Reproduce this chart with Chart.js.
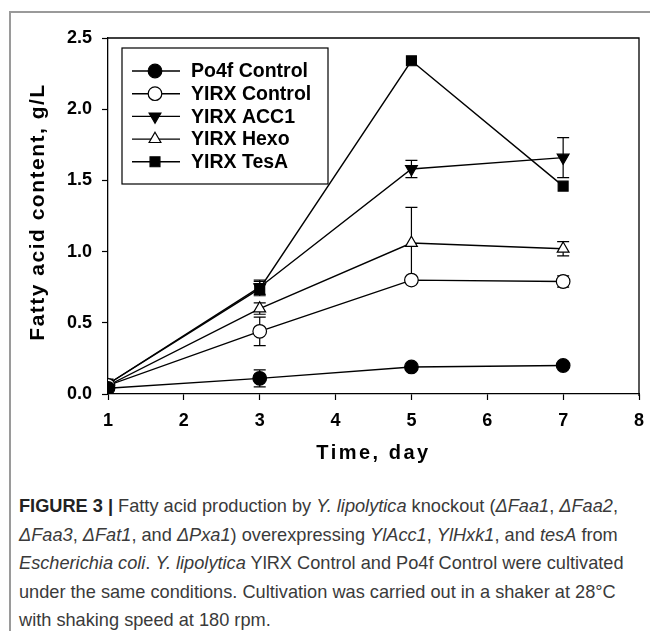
<!DOCTYPE html>
<html>
<head>
<meta charset="utf-8">
<script src="https://cdn.jsdelivr.net/npm/chart.js@4.4.0/dist/chart.umd.min.js"></script>
<style>
  body { margin: 0; background: #fff; }
  .frame {
    position: absolute; left: 9px; top: 11px; width: 650px; height: 640px;
    border-left: 2px solid #9a9a9a; border-top: 2px solid #9a9a9a;
  }
  #chart { position: absolute; left: 0; top: 0; }
  .caption {
    position: absolute; left: 19px; top: 492px; width: 630px;
    font-family: "Liberation Sans", Arial, sans-serif; font-size: 18.2px;
    line-height: 28.5px; color: #3a3a3a; white-space: nowrap;
  }
  .caption b { color: #222; }
</style>
</head>
<body>
<div class="frame"></div>
<canvas id="chart" width="650" height="470"></canvas>
<div class="caption">
  <b>FIGURE 3 |</b> Fatty acid production by <i>Y. lipolytica</i> knockout (<i>ΔFaa1</i>, <i>ΔFaa2</i>,<br>
  <i>ΔFaa3</i>, <i>ΔFat1</i>, and <i>ΔPxa1</i>) overexpressing <i>YlAcc1</i>, <i>YlHxk1</i>, and <i>tesA</i> from<br>
  <i>Escherichia coli</i>. <i>Y. lipolytica</i> YlRX Control and Po4f Control were cultivated<br>
  under the same conditions. Cultivation was carried out in a shaker at 28°C<br>
  with shaking speed at 180 rpm.
</div>
<script>
// sampling days
const days = [1, 3, 5, 7];

// fatty acid content, g/L
const po4fControl = [0.04, 0.11, 0.19, 0.20];
const yirxControl = [0.06, 0.44, 0.80, 0.79];
const yirxAcc1    = [0.07, 0.75, 1.58, 1.66];
const yirxHexo    = [0.06, 0.60, 1.06, 1.02];
const yirxTesA    = [0.07, 0.74, 2.34, 1.46];

// error bars (+/-)
const po4fErr = [0, 0.06, 0.01, 0.01];
const ctrlErr = [0, 0.10, 0.02, 0.04];
const accErr  = [0, 0.05, 0.06, 0.14];
const hexoErr = [0, 0.04, 0.25, 0.05];
const tesErr  = [0, 0.05, 0, 0];

const seriesNames = ["Po4f Control", "YIRX Control", "YIRX ACC1", "YIRX Hexo", "YIRX TesA"];
const xTicks = [1, 2, 3, 4, 5, 6, 7, 8];
const yTicks = [0, 0.5, 1.0, 1.5, 2.0, 2.5];
const xTitle = "Time, day";
const yTitle = "Fatty acid content, g/L";

const FONT = "'Liberation Sans', Arial, sans-serif";

function series(name, vals, errs, style, fill, rot) {
  return {
    label: name,
    data: days.map((d, i) => ({ x: d, y: vals[i] })),
    errors: errs,
    borderColor: "#000",
    borderWidth: 1.4,
    pointStyle: style,
    pointRotation: rot || 0,
    pointRadius: style === "rect" ? 7 : 6.8,
    pointBorderWidth: 1.2,
    pointBackgroundColor: fill,
    pointBorderColor: "#000",
    tension: 0
  };
}

const datasets = [
  series(seriesNames[0], po4fControl, po4fErr, "circle", "#000"),
  series(seriesNames[1], yirxControl, ctrlErr, "circle", "#fff"),
  series(seriesNames[2], yirxAcc1, accErr, "triangle", "#000", 180),
  series(seriesNames[3], yirxHexo, hexoErr, "triangle", "#fff"),
  series(seriesNames[4], yirxTesA, tesErr, "rect", "#000")
];

const figPlugin = {
  id: "fig",
  beforeDatasetsDraw(chart) {
    const ctx = chart.ctx, xs = chart.scales.x, ys = chart.scales.y;
    ctx.save();
    ctx.strokeStyle = "#000";
    ctx.lineWidth = 1.2;
    chart.data.datasets.forEach(ds => {
      ds.data.forEach((p, i) => {
        const e = ds.errors[i];
        if (!e) return;
        const x = xs.getPixelForValue(p.x);
        const y1 = ys.getPixelForValue(p.y - e), y2 = ys.getPixelForValue(p.y + e);
        ctx.beginPath();
        ctx.moveTo(x, y1); ctx.lineTo(x, y2);
        ctx.moveTo(x - 6, y1); ctx.lineTo(x + 6, y1);
        ctx.moveTo(x - 6, y2); ctx.lineTo(x + 6, y2);
        ctx.stroke();
      });
    });
    ctx.restore();
  },
  afterDraw(chart) {
    const ctx = chart.ctx, a = chart.chartArea;
    ctx.save();
    // top and right frame
    ctx.strokeStyle = "#000";
    ctx.lineWidth = 1.3;
    ctx.beginPath();
    ctx.moveTo(a.left, a.top); ctx.lineTo(a.right, a.top); ctx.lineTo(a.right, a.bottom + 2);
    ctx.stroke();

    // axis titles (letter-spaced like the original export)
    ctx.fillStyle = "#000";
    ctx.textAlign = "center";
    ctx.textBaseline = "middle";
    ctx.letterSpacing = "2.5px";
    ctx.font = "bold 20px " + FONT;
    ctx.fillText(xTitle, (a.left + a.right) / 2, a.bottom + 59);
    ctx.save();
    ctx.translate(38, (a.top + a.bottom) / 2 - 4);
    ctx.rotate(-Math.PI / 2);
    ctx.letterSpacing = "1.5px";
    ctx.font = "bold 21px " + FONT;
    ctx.fillText(yTitle, 0, 0);
    ctx.restore();
    ctx.letterSpacing = "0px";

    // legend box
    const lx = a.left + 14, ly = a.top + 10, lw = 206, lh = 136;
    ctx.fillStyle = "#fff";
    ctx.fillRect(lx, ly, lw, lh);
    ctx.lineWidth = 1.2;
    ctx.strokeRect(lx, ly, lw, lh);
    ctx.font = "bold 19.5px " + FONT;
    ctx.textAlign = "left";
    chart.data.datasets.forEach((ds, i) => {
      const y = ly + 23 + i * 22.7;
      ctx.strokeStyle = "#000";
      ctx.lineWidth = 1.4;
      ctx.beginPath();
      ctx.moveTo(lx + 10, y); ctx.lineTo(lx + 58, y);
      ctx.stroke();
      ctx.fillStyle = ds.pointBackgroundColor;
      ctx.lineWidth = 1.2;
      Chart.helpers.drawPoint(ctx, {
        pointStyle: ds.pointStyle, rotation: ds.pointRotation,
        radius: ds.pointRadius, borderWidth: 1.2
      }, lx + 33, y);
      ctx.fillStyle = "#000";
      ctx.fillText(ds.label, lx + 69, y + 1);
    });
    ctx.restore();
  }
};

new Chart(document.getElementById("chart"), {
  type: "line",
  data: { datasets },
  plugins: [figPlugin],
  options: {
    responsive: false,
    animation: false,
    devicePixelRatio: 1,
    layout: { padding: { top: 38, right: 11, left: 0, bottom: 0 } },
    plugins: { legend: { display: false }, tooltip: { enabled: false } },
    scales: {
      x: {
        type: "linear",
        min: xTicks[0], max: xTicks[xTicks.length - 1],
        afterFit: s => { s.height = 76; s.paddingLeft = 0; s.paddingRight = 0; },
        afterBuildTicks: s => { s.ticks = xTicks.map(v => ({ value: v })); },
        border: { color: "#000", width: 1.3 },
        grid: { drawOnChartArea: false, tickLength: 6, color: "#000", tickWidth: 1.2 },
        ticks: { color: "#000", padding: 10, font: { family: FONT, size: 18, weight: "bold" } }
      },
      y: {
        min: yTicks[0], max: yTicks[yTicks.length - 1],
        afterFit: s => { s.width = 108; s.paddingTop = 0; s.paddingBottom = 0; },
        afterBuildTicks: s => { s.ticks = yTicks.map(v => ({ value: v })); },
        border: { color: "#000", width: 1.3 },
        grid: { drawOnChartArea: false, tickLength: 6, color: "#000", tickWidth: 1.2 },
        ticks: {
          color: "#000", padding: 10,
          font: { family: FONT, size: 18, weight: "bold" },
          callback: v => v.toFixed(1)
        }
      }
    }
  }
});
</script>
</body>
</html>
